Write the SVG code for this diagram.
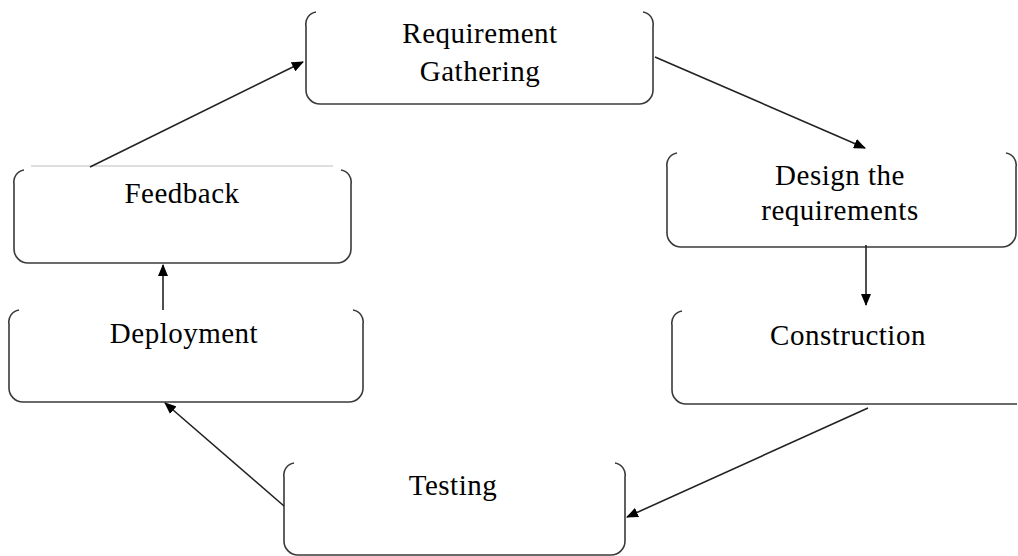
<svg xmlns="http://www.w3.org/2000/svg" width="1018" height="556" viewBox="0 0 1018 556">
  <style>
    .box { fill: none; stroke: #3a3a3a; stroke-width: 1.6; }
    .lbl { font-family: "Liberation Serif", "Times New Roman", serif; font-size: 29px; fill: #000; text-anchor: middle; letter-spacing: 0.5px; }
    .conn { fill: none; stroke: #222; stroke-width: 1.6; marker-end: url(#arrow); }
  </style>
  <defs>
    <marker id="arrow" viewBox="0 0 12 10" refX="11" refY="5" markerWidth="12" markerHeight="10" markerUnits="userSpaceOnUse" orient="auto">
      <path d="M0,0 L12,5 L0,10 z" fill="#000"/>
    </marker>
  </defs>

  <!-- open-topped rounded boxes: corner arcs on top, no top edge -->
  <g id="requirement-gathering">
    <path class="box" d="M316,12 A12,12 0 0 0 306,26 L306,90 A14,14 0 0 0 320,104 L639,104 A14,14 0 0 0 653,90 L653,26 A12,12 0 0 0 643,12"/>
    <text class="lbl" x="480" y="43">Requirement</text>
    <text class="lbl" x="480" y="81">Gathering</text>
  </g>

  <g id="design">
    <path class="box" d="M677,153 A12,12 0 0 0 667,167 L667,233 A14,14 0 0 0 681,247 L1002,247 A14,14 0 0 0 1016,233 L1016,167 A12,12 0 0 0 1006,153"/>
    <text class="lbl" x="840" y="185">Design the</text>
    <text class="lbl" x="840" y="220">requirements</text>
  </g>

  <g id="construction">
    <path class="box" d="M682,311 A12,12 0 0 0 672,325 L672,390 A14,14 0 0 0 686,404 L1017,404"/>
    <text class="lbl" x="848" y="345">Construction</text>
  </g>

  <g id="testing">
    <path class="box" d="M294,463 A12,12 0 0 0 284,477 L284,541 A14,14 0 0 0 298,555 L611,555 A14,14 0 0 0 625,541 L625,477 A12,12 0 0 0 615,463"/>
    <text class="lbl" x="453" y="495">Testing</text>
  </g>

  <g id="deployment">
    <path class="box" d="M19,310 A12,12 0 0 0 9,324 L9,388 A14,14 0 0 0 23,402 L349,402 A14,14 0 0 0 363,388 L363,324 A12,12 0 0 0 353,310"/>
    <text class="lbl" x="184" y="343">Deployment</text>
  </g>

  <g id="feedback">
    <line x1="31" y1="166" x2="333" y2="166" stroke="#bdbdbd" stroke-width="1"/>
    <path class="box" d="M24,170 A12,12 0 0 0 14,184 L14,249 A14,14 0 0 0 28,263 L337,263 A14,14 0 0 0 351,249 L351,184 A12,12 0 0 0 341,170"/>
    <text class="lbl" x="182" y="203">Feedback</text>
  </g>

  <g id="connectors">
    <line class="conn" x1="90" y1="167" x2="303" y2="62"/>
    <line class="conn" x1="655" y1="57" x2="865" y2="148"/>
    <line class="conn" x1="866" y1="245" x2="866" y2="305"/>
    <line class="conn" x1="868" y1="408" x2="627" y2="517"/>
    <line class="conn" x1="284" y1="506" x2="165" y2="403"/>
    <line class="conn" x1="163" y1="310" x2="163" y2="265"/>
  </g>
</svg>
